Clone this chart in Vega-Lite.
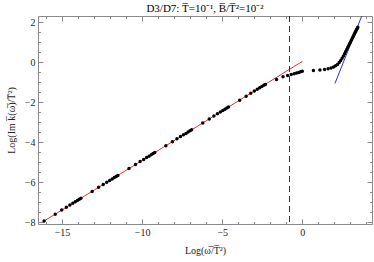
{
  "$schema": "https://vega.github.io/schema/vega-lite/v6.json",
  "width": 334,
  "height": 208,
  "autosize": "none",
  "padding": {"left": 38, "top": 16, "right": 2, "bottom": 38},
  "background": "white",
  "title": {"text": "D3/D7: T̅=10⁻¹, B̅/T̅²=10⁻²", "font": "Liberation Serif", "fontSize": 11, "fontWeight": "normal", "color": "#000", "offset": 2, "anchor": "middle"},
  "config": {
    "view": {"stroke": "#8a8a8a", "strokeWidth": 1},
    "axis": {"labelFont": "Liberation Serif", "labelFontSize": 10, "labelColor": "#222", "titleFont": "Liberation Serif", "titleFontSize": 10, "titleFontWeight": "normal", "titleColor": "#222", "tickColor": "#8a8a8a", "domain": false, "grid": false}
  },
  "datasets": {
    "pts": [
      {"x": -16.118, "y": -7.95}, {"x": -15.425, "y": -7.61}, {"x": -15.020, "y": -7.40}, {"x": -14.732, "y": -7.26}, {"x": -14.509, "y": -7.15}, {"x": -14.326, "y": -7.06}, {"x": -14.172, "y": -6.99}, {"x": -14.039, "y": -6.92}, {"x": -13.921, "y": -6.86},
      {"x": -13.816, "y": -6.81}, {"x": -13.122, "y": -6.47}, {"x": -12.717, "y": -6.26}, {"x": -12.429, "y": -6.12}, {"x": -12.206, "y": -6.01}, {"x": -12.024, "y": -5.92}, {"x": -11.870, "y": -5.85}, {"x": -11.736, "y": -5.78}, {"x": -11.618, "y": -5.72},
      {"x": -11.513, "y": -5.67}, {"x": -10.820, "y": -5.33}, {"x": -10.414, "y": -5.13}, {"x": -10.127, "y": -4.98}, {"x": -9.903, "y": -4.87}, {"x": -9.721, "y": -4.78}, {"x": -9.567, "y": -4.71}, {"x": -9.433, "y": -4.64}, {"x": -9.316, "y": -4.58},
      {"x": -9.210, "y": -4.53}, {"x": -8.517, "y": -4.19}, {"x": -8.112, "y": -3.99}, {"x": -7.824, "y": -3.84}, {"x": -7.601, "y": -3.73}, {"x": -7.419, "y": -3.64}, {"x": -7.264, "y": -3.57}, {"x": -7.131, "y": -3.50}, {"x": -7.013, "y": -3.44},
      {"x": -6.908, "y": -3.39}, {"x": -6.215, "y": -3.05}, {"x": -5.809, "y": -2.85}, {"x": -5.521, "y": -2.70}, {"x": -5.298, "y": -2.59}, {"x": -5.116, "y": -2.50}, {"x": -4.962, "y": -2.43}, {"x": -4.828, "y": -2.36}, {"x": -4.711, "y": -2.30},
      {"x": -4.605, "y": -2.25}, {"x": -3.912, "y": -1.91}, {"x": -3.507, "y": -1.71}, {"x": -3.219, "y": -1.56}, {"x": -2.996, "y": -1.45}, {"x": -2.813, "y": -1.36}, {"x": -2.659, "y": -1.29}, {"x": -2.526, "y": -1.22}, {"x": -2.408, "y": -1.16},
      {"x": -2.303, "y": -1.12}, {"x": -1.609, "y": -0.87}, {"x": -1.204, "y": -0.74}, {"x": -0.916, "y": -0.68}, {"x": -0.693, "y": -0.63}, {"x": -0.511, "y": -0.59}, {"x": -0.357, "y": -0.55}, {"x": -0.223, "y": -0.52}, {"x": -0.105, "y": -0.49},
      {"x": 0.0, "y": -0.46}, {"x": 0.693, "y": -0.43}, {"x": 1.099, "y": -0.40}, {"x": 1.386, "y": -0.37}, {"x": 1.609, "y": -0.34}, {"x": 1.792, "y": -0.30}, {"x": 1.946, "y": -0.25}, {"x": 2.079, "y": -0.19}, {"x": 2.197, "y": -0.12},
      {"x": 2.303, "y": -0.02}, {"x": 2.398, "y": 0.08}, {"x": 2.485, "y": 0.19}, {"x": 2.565, "y": 0.30}, {"x": 2.639, "y": 0.41}, {"x": 2.708, "y": 0.52}, {"x": 2.773, "y": 0.62}, {"x": 2.833, "y": 0.72}, {"x": 2.890, "y": 0.81}, {"x": 2.944, "y": 0.90},
      {"x": 2.996, "y": 0.98}, {"x": 3.045, "y": 1.06}, {"x": 3.091, "y": 1.14}, {"x": 3.135, "y": 1.21}, {"x": 3.178, "y": 1.28}, {"x": 3.219, "y": 1.35}, {"x": 3.258, "y": 1.41}, {"x": 3.296, "y": 1.47}, {"x": 3.332, "y": 1.53}, {"x": 3.367, "y": 1.59}, {"x": 3.401, "y": 1.64}, {"x": 3.434, "y": 1.69}, {"x": 3.466, "y": 1.74}
    ],
    "red": [{"x": -16.2, "y": -7.99}, {"x": 0.0, "y": 0.03}],
    "blue": [{"x": 2.04, "y": -1.07}, {"x": 3.72, "y": 2.32}],
    "vline": [{"x": -0.8}]
  },
  "layer": [
    {
      "data": {"name": "red"},
      "mark": {"type": "line", "color": "#f03030", "strokeWidth": 1},
      "encoding": {
        "x": {"field": "x", "type": "quantitative", "scale": {"domain": [-16.5, 4.35], "nice": false, "zero": false},
          "axis": {"orient": "top", "values": [-16,-15,-14,-13,-12,-11,-10,-9,-8,-7,-6,-5,-4,-3,-2,-1,0,1,2,3,4], "labels": false, "title": null,
            "tickSize": {"condition": {"test": "datum.value % 5 === 0", "value": -5}, "value": -2.5}}},
        "y": {"field": "y", "type": "quantitative", "scale": {"domain": [-8.1, 2.3], "nice": false, "zero": false},
          "axis": {"orient": "right", "values": [-8,-7.5,-7,-6.5,-6,-5.5,-5,-4.5,-4,-3.5,-3,-2.5,-2,-1.5,-1,-0.5,0,0.5,1,1.5,2], "labels": false, "title": null,
            "tickSize": {"condition": {"test": "datum.value % 2 === 0", "value": -5}, "value": -2.5}}}
      }
    },
    {
      "data": {"name": "blue"},
      "mark": {"type": "line", "color": "#2a2aff", "strokeWidth": 1, "clip": true},
      "encoding": {
        "x": {"field": "x", "type": "quantitative", "axis": null},
        "y": {"field": "y", "type": "quantitative", "axis": null}
      }
    },
    {
      "data": {"name": "vline"},
      "mark": {"type": "rule", "color": "#333", "strokeWidth": 1, "strokeDash": [6, 4]},
      "encoding": {
        "x": {"field": "x", "type": "quantitative", "axis": null}
      }
    },
    {
      "data": {"name": "pts"},
      "mark": {"type": "circle", "color": "#000", "opacity": 1, "size": 12},
      "encoding": {
        "x": {"field": "x", "type": "quantitative",
          "axis": {"orient": "bottom", "values": [-16,-15,-14,-13,-12,-11,-10,-9,-8,-7,-6,-5,-4,-3,-2,-1,0,1,2,3,4],
            "labelExpr": "datum.value % 5 === 0 ? datum.label : ''",
            "tickSize": {"condition": {"test": "datum.value % 5 === 0", "value": -5}, "value": -2.5},
            "labelPadding": 8, "title": "Log(ω̅/T̅²)", "titlePadding": 8}},
        "y": {"field": "y", "type": "quantitative",
          "axis": {"orient": "left", "values": [-8,-7.5,-7,-6.5,-6,-5.5,-5,-4.5,-4,-3.5,-3,-2.5,-2,-1.5,-1,-0.5,0,0.5,1,1.5,2],
            "labelExpr": "datum.value % 2 === 0 ? format(datum.value, 'd') : ''",
            "tickSize": {"condition": {"test": "datum.value % 2 === 0", "value": -5}, "value": -2.5},
            "labelPadding": 8, "title": "Log(Im k̅(ω̅)/T̅²)", "titlePadding": 8}}
      }
    }
  ]
}
